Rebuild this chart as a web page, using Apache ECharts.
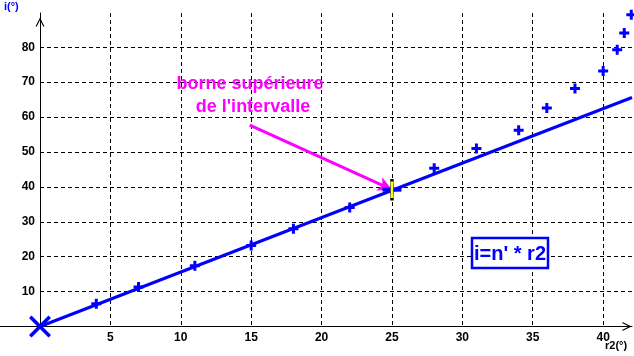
<!DOCTYPE html>
<html>
<head>
<meta charset="utf-8">
<script src="https://cdn.jsdelivr.net/npm/echarts@6/dist/echarts.min.js"></script>
<style>
html,body{margin:0;padding:0;background:#fff;}
#chart{width:634px;height:356px;}
</style>
</head>
<body>
<div id="chart"></div>
<script>
// Measured points (r2 in degrees, i in degrees)
const r2Values = [4, 7, 11, 15, 18, 22, 25, 28, 31, 34, 36, 38, 40, 41, 41.5, 42];
const iValues  = [6.5, 11.3, 17.4, 23.2, 28.0, 34.1, 39.2, 45.3, 51.0, 56.2, 62.6, 68.2, 73.2, 79.3, 84.1, 89.3];
// Fitted line i = n' * r2
const fitR2 = [0, 42.05];
const fitI  = [0, 65.6];
// Upper bound of the interval (highlighted point)
const boundR2 = [25];
const boundI  = [39.2];
// Annotation arrow (data coordinates)
const arrowFrom = [14.9, 57.7];
const arrowTo   = [25, 39.2];
// Axis settings
const xMin = 0, xMax = 42.05, xStep = 5;
const yMin = 0, yMax = 89.8, yStep = 10;
const xName = 'r2(°)';
const yName = 'i(°)';
const noteLines = ['borne supérieure', "de l'intervalle"];
const formulaText = "i=n' * r2";

const BLUE = '#0000ff', MAGENTA = '#ff00ff';
const plusPath = 'path://M3.5,0 H6.5 V3.5 H10 V6.5 H6.5 V10 H3.5 V6.5 H0 V3.5 H3.5 Z';
const xPath = 'path://M0,2.5 L2.5,0 L11,8.5 L19.5,0 L22,2.5 L13.5,11 L22,19.5 L19.5,22 L11,13.5 L2.5,22 L0,19.5 L8.5,11 Z';
const chevron = 'path://M5,0 L10,10 L8.6,10 L5,2.8 L1.4,10 L0,10 Z';

const zip = (a, b) => a.map((v, k) => [v, b[k]]);
const labelFont = {fontFamily: 'Liberation Sans, Arial, sans-serif', fontWeight: 'bold', fontSize: 12, color: '#000'};

const chart = echarts.init(document.getElementById('chart'), null, {renderer: 'canvas'});
chart.setOption({
  animation: false,
  backgroundColor: '#fff',
  grid: [
    {left: 40, right: 2, top: 13, bottom: 29.5},
    {left: 0, right: 2, top: 13, bottom: 29.5}
  ],
  xAxis: [
    {
      type: 'value', gridIndex: 0, min: xMin, max: xMax, interval: xStep,
      axisLine: {show: false}, axisTick: {show: false},
      axisLabel: Object.assign({margin: 5, showMinLabel: false, showMaxLabel: false}, labelFont),
      splitLine: {show: true, showMinLine: false, showMaxLine: false, lineStyle: {color: '#000', width: 1, type: [4, 3]}}
    },
    {
      type: 'value', gridIndex: 1, min: -2.85, max: xMax,
      axisLine: {show: true, onZero: false, lineStyle: {color: '#000', width: 1},
        symbol: ['none', chevron], symbolSize: [9, 10], symbolOffset: [0, -5]},
      axisTick: {show: false}, axisLabel: {show: false}, splitLine: {show: false}
    }
  ],
  yAxis: [
    {
      type: 'value', gridIndex: 0, min: yMin, max: yMax, interval: yStep,
      axisLine: {show: true, lineStyle: {color: '#000', width: 1},
        symbol: ['none', chevron], symbolSize: [9, 12], symbolOffset: [0, -9]},
      axisTick: {show: false},
      axisLabel: Object.assign({margin: 5, showMinLabel: false, showMaxLabel: false}, labelFont),
      splitLine: {show: true, showMinLine: false, showMaxLine: false, lineStyle: {color: '#000', width: 1, type: [4, 3]}}
    },
    {
      type: 'value', gridIndex: 1, min: yMin, max: yMax, show: false
    }
  ],
  series: [
    {
      name: 'fit', type: 'line', xAxisIndex: 0, yAxisIndex: 0,
      data: zip(fitR2, fitI), showSymbol: false, symbol: 'none',
      lineStyle: {color: BLUE, width: 3, opacity: 1}, z: 3,
      markLine: {
        silent: true, symbol: ['none', 'arrow'], symbolSize: [11, 14],
        label: {show: false},
        lineStyle: {color: MAGENTA, width: 3, type: 'solid', opacity: 1},
        data: [[{coord: arrowFrom}, {coord: arrowTo}]]
      }
    },
    {
      name: 'measures', type: 'scatter', xAxisIndex: 0, yAxisIndex: 0,
      data: zip(r2Values, iValues), symbol: plusPath, symbolSize: 10,
      itemStyle: {color: BLUE, opacity: 1}, z: 4
    },
    {
      name: 'boundH', type: 'scatter', xAxisIndex: 0, yAxisIndex: 0,
      data: zip(boundR2, boundI), symbol: 'rect', symbolSize: [19, 4],
      itemStyle: {color: BLUE, opacity: 1}, z: 5
    },
    {
      name: 'boundV', type: 'scatter', xAxisIndex: 0, yAxisIndex: 0,
      data: zip(boundR2, boundI), symbol: 'rect', symbolSize: [3, 19],
      itemStyle: {color: '#ffff00', borderColor: '#000', borderWidth: 1, opacity: 1}, z: 6
    },
    {
      name: 'origin', type: 'scatter', xAxisIndex: 0, yAxisIndex: 0,
      data: [[fitR2[0], fitI[0]]], symbol: xPath, symbolSize: 22,
      itemStyle: {color: BLUE, opacity: 1}, z: 7
    }
  ],
  graphic: [
    {type: 'text', left: 4, top: 1, z: 100,
      style: {text: yName, fill: BLUE, font: 'bold 11px "Liberation Sans", Arial, sans-serif'}},
    {type: 'text', left: 605, top: 340, z: 100,
      style: {text: xName, fill: '#000', font: 'bold 11px "Liberation Sans", Arial, sans-serif'}},
    {type: 'text', x: 250, y: 75, z: 100,
      style: {text: noteLines[0], fill: MAGENTA, align: 'center', verticalAlign: 'top',
        font: 'bold 18px "Liberation Sans", Arial, sans-serif'}},
    {type: 'text', x: 253, y: 98, z: 100,
      style: {text: noteLines[1], fill: MAGENTA, align: 'center', verticalAlign: 'top',
        font: 'bold 18px "Liberation Sans", Arial, sans-serif'}},
    {type: 'rect', shape: {x: 472, y: 238, width: 76, height: 30}, z: 100,
      style: {fill: '#fff', stroke: BLUE, lineWidth: 2.5}},
    {type: 'text', x: 510, y: 254, z: 101,
      style: {text: formulaText, fill: BLUE, align: 'center', verticalAlign: 'middle',
        font: 'bold 20px "Liberation Sans", Arial, sans-serif'}}
  ]
});
</script>
</body>
</html>
